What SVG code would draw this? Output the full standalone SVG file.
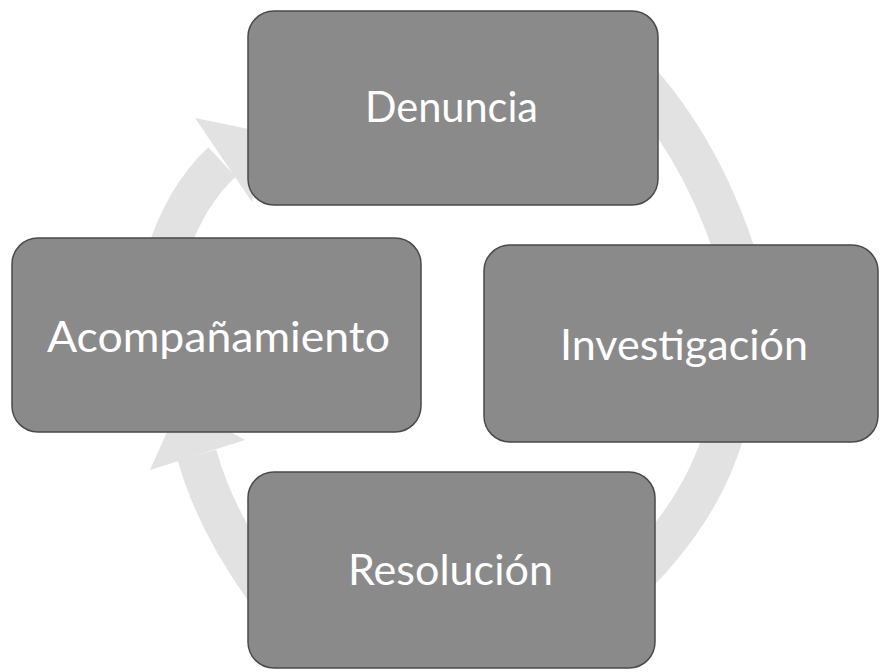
<svg xmlns="http://www.w3.org/2000/svg" width="880" height="672" viewBox="0 0 880 672">
  <style>
    .box { fill: #8a8a8a; stroke: #4a4a4a; stroke-width: 1.5; }
    .lbl { fill: #ffffff; font-family: Lato, "Liberation Sans", sans-serif; font-size: 42px; text-anchor: middle; }
    .band { fill: none; stroke: #e2e2e2; stroke-width: 40; }
    .head { fill: #e2e2e2; }
  </style>
  <rect width="880" height="672" fill="#ffffff"/>
  <g id="connectors">
    <path class="band" d="M 150 330 Q 165 215 222 162"/>
    <polygon class="head" points="195,118 252,202 263,132"/>
    <path class="band" d="M 620 60 Q 700 140 738 262"/>
    <polygon class="head" points="781,249 695,276 753,310"/>
    <path class="band" d="M 725 430 Q 700 520 610 600"/>
    <polygon class="head" points="643,630 577,570 580,635"/>
    <path class="band" d="M 265 590 Q 215 520 197 455"/>
    <polygon class="head" points="245,440 150,470 180,403"/>
  </g>
  <g id="denuncia">
    <rect class="box" x="248" y="11" width="410" height="194" rx="26"/>
    <text class="lbl" x="451.5" y="122" textLength="173" lengthAdjust="spacingAndGlyphs">Denuncia</text>
  </g>
  <g id="acompanamiento">
    <rect class="box" x="12" y="238" width="409" height="194" rx="26"/>
    <text class="lbl" x="218.5" y="352" textLength="343" lengthAdjust="spacingAndGlyphs">Acompañamiento</text>
  </g>
  <g id="investigacion">
    <rect class="box" x="484" y="245" width="394" height="197" rx="26"/>
    <text class="lbl" x="684" y="360" textLength="248" lengthAdjust="spacingAndGlyphs">Investigación</text>
  </g>
  <g id="resolucion">
    <rect class="box" x="248" y="472" width="407" height="196" rx="26"/>
    <text class="lbl" x="450.5" y="585" textLength="205" lengthAdjust="spacingAndGlyphs">Resolución</text>
  </g>
</svg>
